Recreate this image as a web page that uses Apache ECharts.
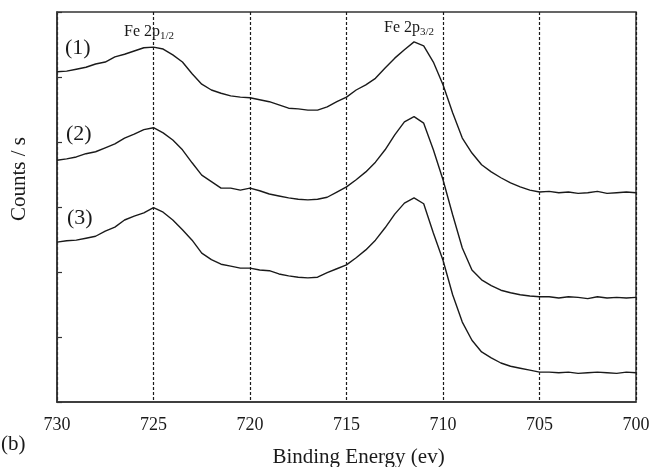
<!DOCTYPE html>
<html>
<head>
<meta charset="utf-8">
<script src="https://cdn.jsdelivr.net/npm/echarts@6/dist/echarts.min.js"></script>
<style>
  html, body { margin: 0; padding: 0; background: #fff; }
  #chart { width: 649px; height: 467px; }
</style>
</head>
<body>
<div id="chart"></div>
<script>
// Binding energy grid (eV)
const energy = [
  730, 729.5, 729, 728.5, 728, 727.5, 727, 726.5, 726, 725.5,
  725, 724.5, 724, 723.5, 723, 722.5, 722, 721.5, 721, 720.5,
  720, 719.5, 719, 718.5, 718, 717.5, 717, 716.5, 716, 715.5,
  715, 714.5, 714, 713.5, 713, 712.5, 712, 711.5, 711, 710.5,
  710, 709.5, 709, 708.5, 708, 707.5, 707, 706.5, 706, 705.5,
  705, 704.5, 704, 703.5, 703, 702.5, 702, 701.5, 701, 700.5,
  700
];

// Offset spectra (arbitrary counts units)
const curve1 = [
  5.08, 5.09, 5.12, 5.15, 5.20, 5.23, 5.31, 5.35, 5.40, 5.45,
  5.46, 5.43, 5.34, 5.23, 5.05, 4.89, 4.80, 4.75, 4.71, 4.69,
  4.68, 4.65, 4.62, 4.57, 4.52, 4.51, 4.49, 4.49, 4.54, 4.62,
  4.69, 4.80, 4.88, 4.98, 5.14, 5.29, 5.42, 5.54, 5.48, 5.23,
  4.88, 4.45, 4.06, 3.83, 3.65, 3.54, 3.45, 3.37, 3.31, 3.26,
  3.23, 3.24, 3.22, 3.23, 3.21, 3.22, 3.24, 3.21, 3.22, 3.23,
  3.22
];
const curve2 = [
  3.72, 3.74, 3.77, 3.82, 3.85, 3.91, 3.97, 4.06, 4.12, 4.19,
  4.22, 4.14, 4.03, 3.88, 3.68, 3.49, 3.39, 3.29, 3.29, 3.26,
  3.29, 3.25, 3.20, 3.17, 3.14, 3.12, 3.11, 3.12, 3.15, 3.23,
  3.31, 3.42, 3.54, 3.69, 3.88, 4.11, 4.31, 4.39, 4.29, 3.88,
  3.42, 2.88, 2.37, 2.03, 1.88, 1.79, 1.72, 1.68, 1.65, 1.63,
  1.62, 1.62, 1.60, 1.62, 1.61, 1.59, 1.62, 1.60, 1.61, 1.60,
  1.61
];
const curve3 = [
  2.46, 2.48, 2.49, 2.52, 2.55, 2.63, 2.69, 2.80, 2.86, 2.91,
  2.99, 2.92, 2.80, 2.65, 2.49, 2.29, 2.19, 2.12, 2.09, 2.06,
  2.06, 2.03, 2.02, 1.97, 1.94, 1.92, 1.91, 1.92, 1.99, 2.05,
  2.11, 2.22, 2.34, 2.49, 2.68, 2.89, 3.06, 3.14, 3.05, 2.60,
  2.18, 1.65, 1.23, 0.95, 0.77, 0.68, 0.60, 0.55, 0.52, 0.49,
  0.46, 0.46, 0.45, 0.46, 0.44, 0.45, 0.46, 0.45, 0.44, 0.46,
  0.45
];

const xTicks = [730, 725, 720, 715, 710, 705, 700];

const SERIF = '"Liberation Serif", "DejaVu Serif", serif';
const INK = '#1a1a1a';

const pairs = (ys) => energy.map((e, i) => [e, ys[i]]);

const chart = echarts.init(document.getElementById('chart'));

const peakLabel = (sub, left, top) => ({
  type: 'text', left, top,
  style: {
    text: '{a|Fe 2p}{b|' + sub + '}', fill: INK,
    rich: {
      a: { fontFamily: SERIF, fontSize: 16, lineHeight: 20, verticalAlign: 'middle', fill: INK },
      b: { fontFamily: SERIF, fontSize: 11, lineHeight: 11, verticalAlign: 'bottom', fill: INK }
    }
  }
});

chart.setOption({
  animation: false,
  backgroundColor: '#fff',
  grid: {
    left: 57, right: 13, top: 12, bottom: 65,
    show: true, borderColor: '#333', borderWidth: 1.5,
    outerBoundsMode: 'none'
  },
  xAxis: {
    type: 'value',
    min: 700, max: 730, interval: 5,
    inverse: true,
    name: 'Binding Energy (ev)',
    nameLocation: 'middle',
    nameGap: 45,
    nameTextStyle: { fontFamily: SERIF, fontSize: 21, color: INK, padding: [0, 0, 0, 24] },
    axisLine: { show: true, lineStyle: { color: '#333', width: 1.5 } },
    axisTick: { show: false },
    axisLabel: {
      fontFamily: SERIF, fontSize: 18, color: INK, margin: 14,
      formatter: (v) => (xTicks.includes(v) ? String(v) : '')
    },
    splitLine: { show: true, lineStyle: { color: INK, type: [3, 2], width: 1.2 } }
  },
  yAxis: {
    type: 'value',
    min: 0, max: 6, interval: 1,
    axisLine: { show: true, lineStyle: { color: '#333', width: 1.5 } },
    axisTick: { show: true, inside: true, length: 5, lineStyle: { color: '#333', width: 1.2 } },
    axisLabel: { show: false },
    splitLine: { show: false }
  },
  series: [curve1, curve2, curve3].map((ys) => ({
    type: 'line',
    data: pairs(ys),
    showSymbol: false,
    smooth: false,
    lineStyle: { color: INK, width: 1.4 },
    silent: true
  })),
  graphic: [
    { type: 'text', left: 65, top: 37, style: { text: '(1)', font: '22px ' + SERIF, fill: INK } },
    { type: 'text', left: 66, top: 123, style: { text: '(2)', font: '22px ' + SERIF, fill: INK } },
    { type: 'text', left: 67, top: 207, style: { text: '(3)', font: '22px ' + SERIF, fill: INK } },
    peakLabel('1/2', 124, 24),
    peakLabel('3/2', 384, 20),
    {
      type: 'text', left: 9, top: 137, rotation: Math.PI / 2,
      style: { text: 'Counts / s', font: '21px ' + SERIF, fill: INK }
    },
    { type: 'text', left: 1, top: 434, style: { text: '(b)', font: '21px ' + SERIF, fill: INK } }
  ]
});
</script>
</body>
</html>
